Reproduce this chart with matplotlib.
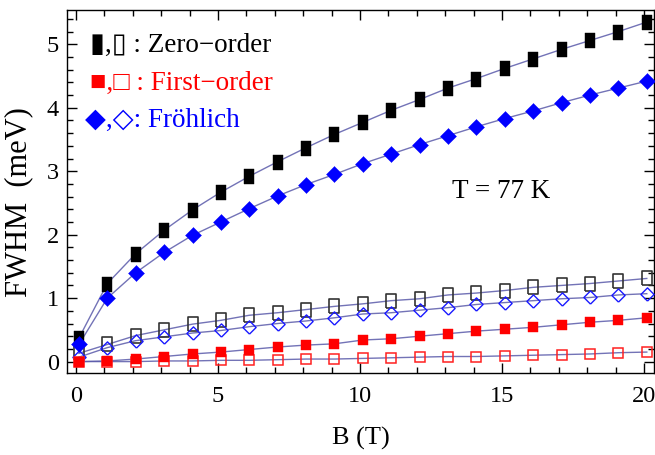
import matplotlib
matplotlib.use("Agg")
import matplotlib.pyplot as plt
from matplotlib.ticker import MultipleLocator

# --- data (FWHM in meV vs B in T, T = 77 K) ---
B = [0.1, 1.1, 2.1, 3.1, 4.1, 5.1, 6.1, 7.1, 8.1, 9.1, 10.1,
     11.1, 12.1, 13.1, 14.1, 15.1, 16.1, 17.1, 18.1, 19.1, 20.1]
zero_filled = [0.37, 1.23, 1.70, 2.07, 2.39, 2.67, 2.92, 3.15, 3.37, 3.58, 3.77,
               3.96, 4.13, 4.31, 4.46, 4.62, 4.77, 4.92, 5.06, 5.20, 5.35]
frohlich_filled = [0.27, 1.00, 1.40, 1.72, 1.99, 2.20, 2.41, 2.61, 2.79, 2.95, 3.12,
                   3.27, 3.42, 3.56, 3.70, 3.83, 3.95, 4.08, 4.20, 4.31, 4.42]
zero_open = [0.13, 0.27, 0.41, 0.50, 0.59, 0.65, 0.73, 0.77, 0.82, 0.87, 0.91,
             0.96, 0.99, 1.05, 1.08, 1.12, 1.17, 1.20, 1.23, 1.27, 1.31]
frohlich_open = [0.07, 0.22, 0.33, 0.39, 0.45, 0.49, 0.55, 0.60, 0.64, 0.69, 0.75,
                 0.77, 0.81, 0.85, 0.90, 0.93, 0.96, 0.99, 1.01, 1.05, 1.07]
first_filled = [0.0, 0.01, 0.04, 0.08, 0.12, 0.15, 0.19, 0.23, 0.26, 0.28, 0.34,
                0.36, 0.40, 0.44, 0.48, 0.51, 0.54, 0.58, 0.62, 0.65, 0.69]
first_open = [0.0, 0.0, 0.0, 0.01, 0.01, 0.02, 0.02, 0.03, 0.04, 0.04, 0.05,
              0.06, 0.07, 0.08, 0.08, 0.09, 0.10, 0.11, 0.12, 0.14, 0.15]

SERIF = ["Liberation Serif", "DejaVu Serif"]
plt.rcParams["font.family"] = SERIF

LINE_C = "#5a5aaa"
TALL = [(-1, -1.5), (1, -1.5), (1, 1.5), (-1, 1.5), (-1, -1.5)]
DIAM = [(0, -1), (1, 0), (0, 1), (-1, 0), (0, -1)]

fig = plt.figure(figsize=(6.55, 4.55), dpi=100)
ax = fig.add_axes([0.1023, 0.1802, 0.896, 0.7978])

# connecting lines
for ys in (zero_filled, frohlich_filled, zero_open, frohlich_open, first_filled, first_open):
    ax.plot(B, ys, color=LINE_C, lw=1.0, alpha=0.85, zorder=2)

# open markers
ax.plot(B, zero_open, ls="none", marker=TALL, ms=10.5, mfc="none", mec="#333333", mew=1.2, zorder=3)
ax.plot(B, frohlich_open, ls="none", marker=DIAM, ms=9.5, mfc="none", mec="#1a1aff", mew=1.0, zorder=3)
ax.plot(B, first_open, ls="none", marker="s", ms=7.0, mfc="none", mec="#ff2020", mew=1.1, zorder=3)
# filled markers
ax.plot(B, first_filled, ls="none", marker="s", ms=7.6, mfc="#ff0000", mec="#ff0000", mew=0.3, zorder=4)
ax.plot(B, zero_filled, ls="none", marker=TALL, ms=10.8, mfc="black", mec="black", mew=0.3, zorder=4)
ax.plot(B, frohlich_filled, ls="none", marker=DIAM, ms=11.5, mfc="#0000ff", mec="#0000ff", mew=0.3, zorder=4)

ax.set_xlim(-0.32, 20.35)
ax.set_ylim(-0.18, 5.54)
ax.xaxis.set_major_locator(MultipleLocator(5))
ax.xaxis.set_minor_locator(MultipleLocator(1))
ax.yaxis.set_major_locator(MultipleLocator(1))
ax.yaxis.set_minor_locator(MultipleLocator(0.2))
ax.tick_params(which="both", direction="in", top=True, right=True, width=1.0, labelsize=17.5)
ax.tick_params(which="major", length=7)
ax.tick_params(which="minor", length=4)
ax.tick_params(axis="x", pad=9)
ax.tick_params(axis="y", pad=6)
for s in ax.spines.values():
    s.set_linewidth(1.0)

ax.set_xlabel("B (T)", fontsize=19)
ax.xaxis.set_label_coords(0.5, -0.148)
ax.set_ylabel("FWHM  (meV)", fontsize=22)
ax.yaxis.set_label_coords(-0.058, 0.47)

# legend written as coloured text
ax.text(0.039, 0.9036, "▮,▯ : Zero\u2212order", color="black", fontsize=19.5,
        transform=ax.transAxes, va="center", ha="left", family=SERIF)
ax.text(0.039, 0.799, "■,□ : First\u2212order", color="#ff0000", fontsize=19.5,
        transform=ax.transAxes, va="center", ha="left", family=SERIF)
ax.text(0.031, 0.695, "◆,◇: Fröhlich", color="#0000ff", fontsize=19.5,
        transform=ax.transAxes, va="center", ha="left", family=SERIF)

ax.text(0.7405, 0.4994, "T = 77 K", fontsize=19.5, transform=ax.transAxes,
        ha="center", va="center")

fig.savefig("out.png", dpi=100)
